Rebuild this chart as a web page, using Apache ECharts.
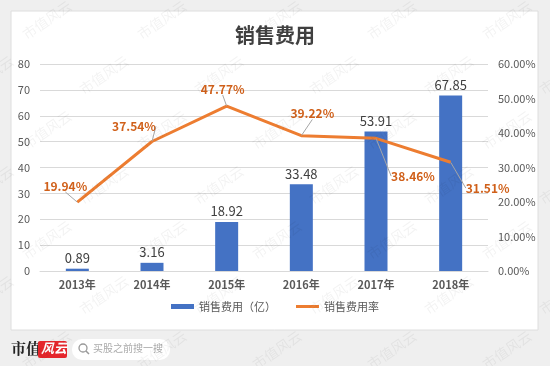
<!DOCTYPE html>
<html><head><meta charset="utf-8">
<script src="https://cdn.jsdelivr.net/npm/echarts@6/dist/echarts.min.js"></script>
<style>html,body{margin:0;padding:0;background:#efefef;}#c{width:550px;height:366px;}</style>
</head><body><div id="c"></div>
<script>
var categories = ['2013年','2014年','2015年','2016年','2017年','2018年'];
var salesExpense = [0.89, 3.16, 18.92, 33.48, 53.91, 67.85];
var salesExpenseRate = [19.94, 37.54, 47.77, 39.22, 38.46, 31.51];
var leftTicks = {min: 0, max: 80, interval: 10};
var rightTicks = {min: 0, max: 60, interval: 10};
var rateLabelOffsets = [[-12,-5],[-18,-4],[-4,-6],[11,-11],[37,49],[37,37]];

var chart = echarts.init(document.getElementById('c'), null, {renderer:'canvas'});
var font = '"Microsoft YaHei","Noto Sans CJK SC",sans-serif';

var wm = [];
for (var r = -1; r < 8; r++) {
  for (var k = -1; k < 6; k++) {
    wm.push({type:'text', x: k*115 + (r%2)*57 + 20, y: r*55 + 30, rotation: 0.6, z: 100, silent: true,
      style:{text:'市值风云', font:'14px ' + font, fill:'rgba(0,0,0,0.05)'}});
  }
}

var option = {
  backgroundColor: '#efefef',
  textStyle: {fontFamily: font},
  graphic: [
    {type:'rect', shape:{x:11, y:11, width:527, height:319}, style:{fill:'#fff', stroke:'#dedede', lineWidth:1}, z:-10},
    {type:'text', x:11, y:341, style:{text:'市值', font:'bold 15px "Noto Serif CJK SC","Noto Sans CJK SC",serif', fill:'#222'}},
    {type:'rect', shape:{x:38, y:341, width:29, height:17, r:2}, style:{fill:'#e5262c'}},
    {type:'text', x:41, y:342, style:{text:'风云', font:'italic bold 13px ' + font, fill:'#fff'}},
    {type:'rect', shape:{x:72, y:339, width:98, height:21, r:10}, style:{fill:'#fff'}},
    {type:'circle', shape:{cx:83, cy:348, r:4}, style:{fill:'none', stroke:'#999', lineWidth:1.3}},
    {type:'line', shape:{x1:86, y1:351, x2:89, y2:354}, style:{stroke:'#999', lineWidth:1.5}},
    {type:'text', x:93, y:343, style:{text:'买股之前搜一搜', font:'10px ' + font, fill:'#aaa'}}
  ].concat(wm),
  title: {text:'销售费用', left:'center', top:20, textStyle:{fontSize:20, fontWeight:'bold', color:'#404040', fontFamily:font}},
  legend: {
    bottom: 49, left: 'center', itemGap: 20, itemWidth: 23, itemHeight: 5,
    textStyle: {fontSize: 11, color: '#595959'},
    data: [{name:'销售费用（亿）', icon:'rect'}, {name:'销售费用率', icon:'path://M0,0L23,0L23,3L0,3Z'}]
  },
  grid: {left: 40, right: 62, top: 64, bottom: 95},
  xAxis: {
    type: 'category', data: categories,
    axisLine: {lineStyle: {color: '#d9d9d9'}}, axisTick: {show: false},
    axisLabel: {color: '#595959', fontSize: 11, fontWeight: 'bold', margin: 8}
  },
  yAxis: [
    {type:'value', min:leftTicks.min, max:leftTicks.max, interval:leftTicks.interval,
     axisLine:{show:false}, axisTick:{show:false},
     axisLabel:{color:'#595959', fontSize:11, margin:10},
     splitLine:{lineStyle:{color:'#d9d9d9'}}},
    {type:'value', min:rightTicks.min, max:rightTicks.max, interval:rightTicks.interval,
     axisLine:{show:false}, axisTick:{show:false}, splitLine:{show:false},
     axisLabel:{color:'#595959', fontSize:11, margin:10, formatter: function(v){return v.toFixed(2)+'%';}}}
  ],
  series: [
    {name:'销售费用（亿）', type:'bar', data: salesExpense, barWidth: 23, yAxisIndex: 0,
     itemStyle:{color:'#4472C4'},
     label:{show:true, position:'top', distance:4, color:'#404040', fontSize:13}},
    {name:'销售费用率', type:'line', data: salesExpenseRate, yAxisIndex: 1,
     symbol:'circle', symbolSize: 0.5, showSymbol: true,
     lineStyle:{color:'#ED7D31', width:3}, itemStyle:{color:'#ED7D31'},
     label:{show:true, position:'top', distance:5, color:'#D0601A', fontSize:12, fontWeight:'bold',
       formatter: function(p){return p.value.toFixed(2)+'%';}},
     labelLine:{show:true, lineStyle:{color:'#a6a6a6', width:1}},
     labelLayout: function(p){var o = rateLabelOffsets[p.dataIndex]; return {dx:o[0], dy:o[1]};}}
  ]
};
chart.setOption(option);
</script></body></html>
